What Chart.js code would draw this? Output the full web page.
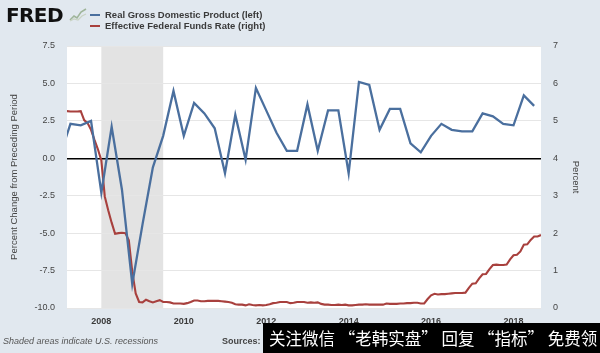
<!DOCTYPE html>
<html>
<head>
<meta charset="utf-8">
<script src="https://cdn.jsdelivr.net/npm/chart.js@4"></script>
<style>
  html, body { margin: 0; padding: 0; }
  body { width: 600px; height: 353px; background: #e1e8ef; position: relative; overflow: hidden;
         font-family: "Liberation Sans", Arial, sans-serif; }
  #wrap { position: absolute; left: 0; top: 0; width: 600px; height: 353px; }
  #logo { position: absolute; left: 6px; top: 3px; font-size: 20px; line-height: 24px; font-weight: 900; color: #111;
          letter-spacing: -0.6px; font-family: "DejaVu Sans", sans-serif; }
  #icon { position: absolute; left: 69px; top: 7px; }
  #legend { position: absolute; left: 90px; top: 9px; font-size: 9.5px; font-weight: bold; color: #3a3a3a; }
  #legend div { height: 11px; line-height: 11px; white-space: nowrap; }
  #legend span.sw { display: inline-block; width: 10px; height: 2px; vertical-align: middle; margin-right: 5px; }
  #note { position: absolute; left: 3px; top: 336px; font-size: 9px; font-style: italic; color: #555; }
  #src { position: absolute; left: 222px; top: 336px; font-size: 9px; font-weight: bold; color: #444; }
  #wm { position: absolute; left: 263px; top: 323px; width: 337px; height: 30px; background: #000; color: #fff;
        font-family: "Noto Sans CJK SC", sans-serif; font-size: 16.5px; line-height: 30px; white-space: nowrap;
        padding-left: 6px; box-sizing: border-box; }
</style>
</head>
<body>
<div id="wrap"><canvas id="chart" width="600" height="353"></canvas></div>
<div id="logo">FRED</div>
<svg id="icon" width="18" height="15" viewBox="0 0 18 15">
  <rect x="0" y="0" width="18" height="15" fill="#e1e8ef"/>
  <polyline points="1,13 5,9 8,11 12,5 17,2" fill="none" stroke="#9fb59a" stroke-width="1.6"/>
  <polyline points="1,14 5,12 9,13 13,9 17,7" fill="none" stroke="#c9d3c4" stroke-width="1.2"/>
</svg>
<div id="legend"></div>
<div id="note">Shaded areas indicate U.S. recessions</div>
<div id="src">Sources: BEA, Federal Reserve</div>
<div id="wm">关注微信 “老韩实盘” 回复 “指标” 免费领</div>
<script>
// Real GDP, percent change from preceding period (quarterly, from 2007 Q1)
var gdpStartYear = 2007;
var gdpValues = [
  0.2, 2.3, 2.2, 2.5,
  -2.3, 2.1, -2.1, -8.4,
  -4.4, -0.6, 1.5, 4.5,
  1.5, 3.7, 3.0, 2.0,
  -1.0, 2.9, -0.1, 4.7,
  3.2, 1.7, 0.5, 0.5,
  3.6, 0.5, 3.2, 3.2,
  -1.0, 5.1, 4.9, 1.9,
  3.3, 3.3, 1.0, 0.4,
  1.5, 2.3, 1.9, 1.8,
  1.8, 3.0, 2.8, 2.3,
  2.2, 4.2, 3.5
];

// Effective federal funds rate, percent (monthly, from Jan 2007)
var ffrStartYear = 2007;
var ffrValues = [
  5.25, 5.26, 5.26, 5.25, 5.25, 5.25, 5.26, 5.02, 4.94, 4.76, 4.49, 4.24,
  3.94, 2.98, 2.61, 2.28, 1.98, 2.00, 2.01, 2.00, 1.81, 0.97, 0.39, 0.16,
  0.15, 0.22, 0.18, 0.15, 0.18, 0.21, 0.16, 0.16, 0.15, 0.12, 0.12, 0.12,
  0.11, 0.13, 0.16, 0.20, 0.20, 0.18, 0.18, 0.19, 0.19, 0.19, 0.19, 0.18,
  0.17, 0.16, 0.14, 0.10, 0.09, 0.09, 0.07, 0.10, 0.08, 0.07, 0.08, 0.07,
  0.08, 0.10, 0.13, 0.14, 0.16, 0.16, 0.16, 0.13, 0.14, 0.16, 0.16, 0.16,
  0.14, 0.15, 0.14, 0.15, 0.11, 0.09, 0.09, 0.08, 0.08, 0.09, 0.08, 0.09,
  0.07, 0.07, 0.08, 0.09, 0.09, 0.10, 0.09, 0.09, 0.09, 0.09, 0.09, 0.12,
  0.11, 0.11, 0.11, 0.12, 0.12, 0.13, 0.13, 0.14, 0.14, 0.12, 0.12, 0.24,
  0.34, 0.38, 0.36, 0.37, 0.37, 0.38, 0.39, 0.40, 0.40, 0.40, 0.41, 0.54,
  0.65, 0.66, 0.79, 0.90, 0.91, 1.04, 1.15, 1.16, 1.15, 1.15, 1.16, 1.30,
  1.41, 1.42, 1.51, 1.69, 1.70, 1.82, 1.91, 1.91, 1.95
];

var yearTicks = [2008, 2010, 2012, 2014, 2016, 2018];
var leftTicks = [-10, -7.5, -5, -2.5, 0, 2.5, 5, 7.5];
var rightTicks = [0, 1, 2, 3, 4, 5, 6, 7];
var recessions = [[2008.0, 2009.5]];   // Jan 2008 - Jun 2009
var xRange = [2007 + 2 / 12, 2018 + 8 / 12];

var seriesNames = ['Real Gross Domestic Product (left)', 'Effective Federal Funds Rate (right)'];
var seriesColors = ['#4a6f9e', '#a8403d'];

var gdpPoints = gdpValues.map(function(v, i) { return { x: gdpStartYear + i / 4, y: v }; });
var ffrPoints = ffrValues.map(function(v, i) { return { x: ffrStartYear + i / 12, y: v }; });

var font = "'Liberation Sans', Arial, sans-serif";

var backdrop = {
  id: 'backdrop',
  beforeDraw: function(chart) {
    var ctx = chart.ctx, a = chart.chartArea, xs = chart.scales.x;
    ctx.save();
    ctx.fillStyle = '#ffffff';
    ctx.fillRect(a.left, a.top, a.right - a.left, a.bottom - a.top);
    ctx.fillStyle = '#e3e3e3';
    recessions.forEach(function(r) {
      var x0 = xs.getPixelForValue(r[0]), x1 = xs.getPixelForValue(r[1]);
      ctx.fillRect(x0, a.top, x1 - x0, a.bottom - a.top);
    });
    ctx.restore();
  }
};

var config = {
  type: 'line',
  data: {
    datasets: [
      { label: seriesNames[0], data: gdpPoints, yAxisID: 'y', borderColor: seriesColors[0],
        borderWidth: 2.3, pointRadius: 0, tension: 0 },
      { label: seriesNames[1], data: ffrPoints, yAxisID: 'y1', borderColor: seriesColors[1],
        borderWidth: 2.1, pointRadius: 0, tension: 0 }
    ]
  },
  options: {
    responsive: false,
    animation: false,
    layout: { padding: { top: 46, left: 0, right: 0, bottom: 0 } },
    plugins: { legend: { display: false }, tooltip: { enabled: false } },
    scales: {
      x: {
        type: 'linear', min: xRange[0], max: xRange[1],
        afterBuildTicks: function(s) { s.ticks = yearTicks.map(function(v) { return { value: v }; }); },
        afterFit: function(s) { s.height = 45; },
        grid: { display: false, drawTicks: false },
        border: { display: false },
        ticks: { padding: 8, color: '#3a3a3a', font: { family: font, size: 9, weight: 'bold' },
                 maxRotation: 0, callback: function(v) { return String(v); } }
      },
      y: {
        position: 'left', min: -10, max: 7.5,
        afterBuildTicks: function(s) { s.ticks = leftTicks.map(function(v) { return { value: v }; }); },
        afterFit: function(s) { s.width = 67; },
        grid: {
          drawTicks: false,
          color: function(c) { return c.tick && c.tick.value === 0 ? '#000000' : '#e6e6e6'; },
          lineWidth: function(c) { return c.tick && c.tick.value === 0 ? 1.5 : 1; }
        },
        border: { display: false },
        ticks: { padding: 12, color: '#444', font: { family: font, size: 9 },
                 callback: function(v) { return v.toFixed(1); } },
        title: { display: true, text: 'Percent Change from Preceding Period', color: '#444',
                 font: { family: font, size: 9.5 }, padding: { top: 9, bottom: 0 } }
      },
      y1: {
        position: 'right', min: 0, max: 7,
        afterBuildTicks: function(s) { s.ticks = rightTicks.map(function(v) { return { value: v }; }); },
        afterFit: function(s) { s.width = 59; },
        grid: { display: false, drawTicks: false },
        border: { display: false },
        ticks: { padding: 12, color: '#444', font: { family: font, size: 9 } },
        title: { display: true, text: 'Percent', color: '#444',
                 font: { family: font, size: 9.5 }, padding: { top: 19, bottom: 0 } }
      }
    }
  },
  plugins: [backdrop]
};

var legend = document.getElementById('legend');
seriesNames.forEach(function(name, i) {
  var row = document.createElement('div');
  row.innerHTML = '<span class="sw" style="background:' + seriesColors[i] + '"></span>' + name;
  legend.appendChild(row);
});

var chart = new Chart(document.getElementById('chart').getContext('2d'), config);
</script>
</body>
</html>
